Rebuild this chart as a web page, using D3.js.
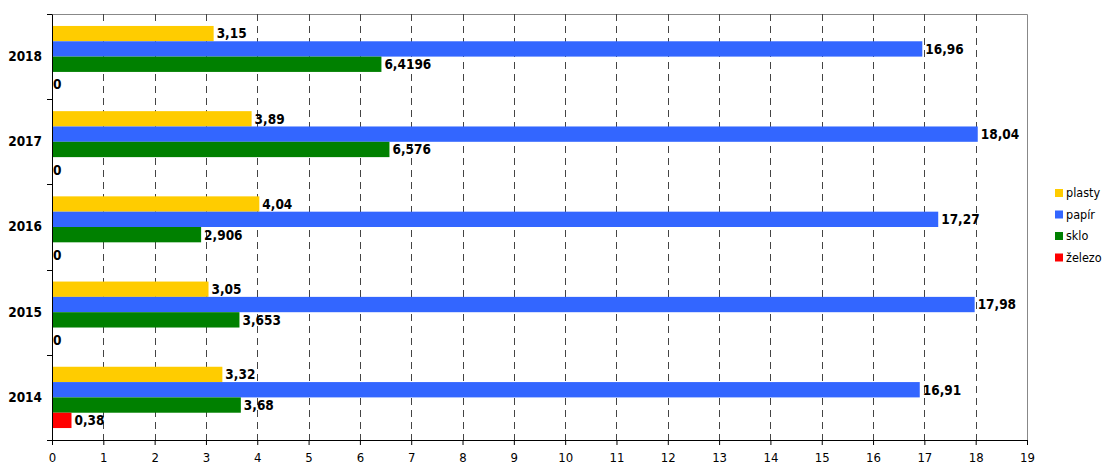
<!DOCTYPE html>
<html>
<head>
<meta charset="utf-8">
<script src="https://cdn.jsdelivr.net/npm/d3@7"></script>
<style>
  body { margin: 0; background: #fff; }
  svg { font-family: "DejaVu Sans Condensed", "DejaVu Sans", sans-serif; }
</style>
</head>
<body>
<div id="chart"></div>
<script>
const years = ['2018', '2017', '2016', '2015', '2014'];
const series = ['plasty', 'papír', 'sklo', 'železo'];
const colors = ['#ffcc00', '#3366ff', '#008000', '#ff0000'];
const plasty = [3.15, 3.89, 4.04, 3.05, 3.32];
const papir = [16.96, 18.04, 17.27, 17.98, 16.91];
const sklo = [6.4196, 6.576, 2.906, 3.653, 3.68];
const zelezo = [0, 0, 0, 0, 0.38];
const xTicks = d3.range(0, 20);

const values = [plasty, papir, sklo, zelezo];
const width = 1103, height = 465;
const margin = { top: 14, right: 76, bottom: 25, left: 52 };

const svg = d3.select('#chart').append('svg')
    .attr('width', width)
    .attr('height', height);

const x = d3.scaleLinear().domain([0, 19]).range([margin.left, width - margin.right]);
const y = d3.scaleBand().domain(years).range([margin.top, height - margin.bottom]);
const inner = d3.scaleBand().domain(series).range([0, y.bandwidth()]).paddingOuter(0.78);

// plot border (top & right)
svg.append('path')
    .attr('d', `M${x(0)},${margin.top + 0.5}H${Math.round(x(19)) + 0.5}V${height - margin.bottom}`)
    .attr('fill', 'none')
    .attr('stroke', '#888')
    .attr('stroke-width', 1);

// dashed vertical gridlines
svg.append('g')
    .selectAll('line')
    .data(xTicks.filter(d => d > 0 && d < 19))
    .join('line')
    .attr('x1', d => Math.round(x(d)) + 0.5)
    .attr('x2', d => Math.round(x(d)) + 0.5)
    .attr('y1', margin.top)
    .attr('y2', height - margin.bottom)
    .attr('stroke', '#444')
    .attr('stroke-dasharray', '7,5');

// bars
const rows = [];
years.forEach((yr, i) => {
    series.forEach((s, j) => rows.push({ year: yr, series: s, value: values[j][i], color: colors[j] }));
});

svg.append('g')
    .selectAll('rect')
    .data(rows)
    .join('rect')
    .attr('x', x(0))
    .attr('y', d => y(d.year) + inner(d.series))
    .attr('width', d => x(d.value) - x(0))
    .attr('height', inner.bandwidth())
    .attr('fill', d => d.color);

// value labels (zero labels sit a little lower, as in the original)
svg.append('g')
    .selectAll('text')
    .data(rows)
    .join('text')
    .attr('x', d => x(d.value) + (d.value > 0 ? 3 : 1))
    .attr('y', d => y(d.year) + inner(d.series) + inner.bandwidth() / 2 + (d.value > 0 ? 0 : 5))
    .attr('dy', '0.36em')
    .attr('font-size', 13.5)
    .attr('font-weight', 'bold')
    .attr('fill', '#000')
    .text(d => String(d.value).replace('.', ','));

// axes
const xAxis = svg.append('g')
    .attr('transform', `translate(0,${height - margin.bottom})`)
    .call(d3.axisBottom(x).tickValues(xTicks).tickSize(5).tickSizeOuter(0));
xAxis.attr('font-family', null).attr('font-size', null);
xAxis.select('.domain').attr('stroke', '#000');
xAxis.selectAll('text').attr('font-size', 13).attr('dy', '1.05em').attr('fill', '#000');

const yAxis = svg.append('g')
    .attr('transform', `translate(${margin.left},0)`)
    .call(d3.axisLeft(y).tickSize(0).tickPadding(10));
yAxis.attr('font-family', null).attr('font-size', null);
yAxis.select('.domain').attr('stroke', '#000');
yAxis.selectAll('text').attr('font-size', 13.5).attr('font-weight', 'bold').attr('fill', '#000');

// category boundary ticks on left axis
svg.append('g')
    .selectAll('line')
    .data(years.map(d => y(d)).concat([height - margin.bottom]))
    .join('line')
    .attr('x1', margin.left - 5)
    .attr('x2', margin.left)
    .attr('y1', d => Math.round(d) + 0.5)
    .attr('y2', d => Math.round(d) + 0.5)
    .attr('stroke', '#000');

// legend
const legend = svg.append('g')
    .attr('transform', 'translate(1055,189)');
const item = legend.selectAll('g')
    .data(series)
    .join('g')
    .attr('transform', (d, i) => `translate(0,${i * 21.5})`);
item.append('rect')
    .attr('width', 8)
    .attr('height', 8)
    .attr('fill', (d, i) => colors[i]);
item.append('text')
    .attr('x', 11)
    .attr('y', 4)
    .attr('dy', '0.35em')
    .attr('font-size', 12.5)
    .text(d => d);
</script>
</body>
</html>
